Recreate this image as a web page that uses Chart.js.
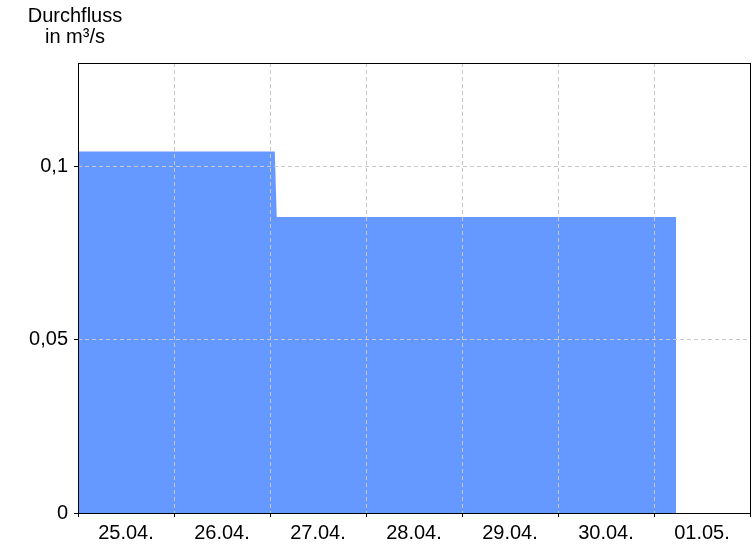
<!DOCTYPE html>
<html>
<head>
<meta charset="utf-8">
<script src="https://cdn.jsdelivr.net/npm/chart.js@4"></script>
<style>
  body { margin: 0; background: #fff; }
  canvas { display: block; }
</style>
</head>
<body>
<canvas id="flowChart" width="756" height="546"></canvas>
<script>
// Chart values
const dayLabels = ['25.04.', '26.04.', '27.04.', '28.04.', '29.04.', '30.04.', '01.05.'];
const flowDays = [0, 2.05, 2.07, 6.23];              // days after 25.04. 00:00
const flowValues = [0.1044, 0.1044, 0.0855, 0.0855]; // m³/s
const yTickValues = [0, 0.05, 0.1];
const yTickLabels = ['0', '0,05', '0,1'];
const titleLines = ['Durchfluss', 'in m³/s'];

const fontFamily = '"Liberation Sans", Arial, sans-serif';

// Axis title in the top left corner + black frame round the plot
const framePlugin = {
    id: 'frame',
    afterDraw(chart) {
        const ctx = chart.ctx;
        const a = chart.chartArea;
        ctx.save();
        ctx.strokeStyle = '#000';
        ctx.lineWidth = 1;
        ctx.strokeRect(Math.round(a.left) + 0.5, Math.round(a.top) + 0.5,
            Math.round(a.right - a.left), Math.round(a.bottom - a.top));
        ctx.fillStyle = '#000';
        ctx.font = '20px ' + fontFamily;
        ctx.textAlign = 'center';
        ctx.textBaseline = 'alphabetic';
        ctx.fillText(titleLines[0], 75, 22);
        ctx.fillText(titleLines[1], 75, 43);
        ctx.restore();
    }
};

const gridDash = {
    color: '#c8c8c8',
    lineWidth: 1,
    tickColor: '#000',
    tickLength: 4,
    z: 1
};

new Chart(document.getElementById('flowChart').getContext('2d'), {
    type: 'line',
    data: {
        datasets: [{
            data: flowDays.map((d, i) => ({ x: d, y: flowValues[i] })),
            backgroundColor: '#6699ff',
            borderWidth: 0,
            pointRadius: 0,
            tension: 0,
            fill: 'origin'
        }]
    },
    options: {
        responsive: false,
        animation: false,
        devicePixelRatio: 1,
        layout: { padding: { top: 63, right: 6, left: 0, bottom: 0 } },
        plugins: {
            legend: { display: false },
            tooltip: { enabled: false }
        },
        scales: {
            x: {
                type: 'linear',
                min: 0,
                max: 7,
                afterBuildTicks: scale => {
                    scale.ticks = dayLabels.map((l, i) => ({ value: i + 0.5 }));
                },
                afterFit: scale => { scale.height = 33; },
                ticks: {
                    autoSkip: false,
                    maxRotation: 0,
                    padding: 4,
                    color: '#000',
                    font: { family: fontFamily, size: 20 },
                    callback: (v, i) => dayLabels[i]
                },
                grid: Object.assign({ offset: true }, gridDash),
                border: { display: false, dash: [4, 3] }
            },
            y: {
                min: 0,
                max: 0.13,
                afterBuildTicks: scale => {
                    scale.ticks = yTickValues.map(v => ({ value: v }));
                },
                afterFit: scale => { scale.width = 78; },
                ticks: {
                    padding: 6,
                    color: '#000',
                    font: { family: fontFamily, size: 20 },
                    callback: (v, i) => yTickLabels[i]
                },
                grid: gridDash,
                border: { display: false, dash: [4, 3] }
            }
        }
    },
    plugins: [framePlugin]
});
</script>
</body>
</html>
